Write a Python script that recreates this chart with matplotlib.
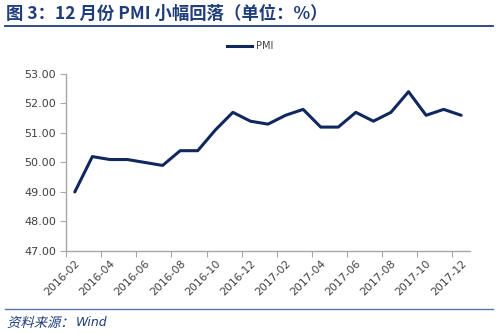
import matplotlib
matplotlib.use("Agg")
import matplotlib.pyplot as plt
from matplotlib.lines import Line2D
from matplotlib.textpath import TextPath
from matplotlib.patches import PathPatch
from matplotlib.font_manager import FontProperties
from matplotlib.transforms import Affine2D

plt.rcParams['font.family'] = ['Noto Sans CJK SC', 'DejaVu Sans']

months = ["2016-02", "2016-03", "2016-04", "2016-05", "2016-06", "2016-07",
          "2016-08", "2016-09", "2016-10", "2016-11", "2016-12", "2017-01",
          "2017-02", "2017-03", "2017-04", "2017-05", "2017-06", "2017-07",
          "2017-08", "2017-09", "2017-10", "2017-11", "2017-12"]
pmi = [49.0, 50.2, 50.1, 50.1, 50.0, 49.9, 50.4, 50.4, 51.1, 51.7, 51.4, 51.3,
       51.6, 51.8, 51.2, 51.2, 51.7, 51.4, 51.7, 52.4, 51.6, 51.8, 51.6]
y_ticks = [47, 48, 49, 50, 51, 52, 53]

line_color = "#11285e"
axis_color = "#a6a6a6"
title_color = "#1f3d7a"
label_color = "#404040"
tick_font = ["DejaVu Sans"]

fig = plt.figure(figsize=(5.0, 3.34), dpi=100)
ax = fig.add_axes([0.132, 0.2485, 0.808, 0.53])

x = list(range(len(months)))
ax.plot(x, pmi, color=line_color, linewidth=2.2, solid_joinstyle="round",
        solid_capstyle="round", zorder=3)

ax.set_xlim(-0.5, len(months) - 0.5)
ax.set_ylim(47, 53)
ax.set_yticks(y_ticks)
ax.set_yticklabels([f"{v:.2f}" for v in y_ticks], fontsize=8, color=label_color,
                   family=tick_font)

# tick marks sit on category boundaries, labels on every second category
ax.set_xticks([i - 0.5 for i in range(0, len(months), 2)])
ax.set_xticklabels([])
ax.set_xticks(x[::2], minor=True)
ax.set_xticklabels(months[::2], minor=True, rotation=45, ha="right",
                   rotation_mode="anchor", fontsize=7.8, color=label_color,
                   family=tick_font)
ax.tick_params(axis="x", which="minor", length=0, pad=5)
ax.tick_params(axis="x", which="major", length=4, direction="out", color=axis_color)
ax.tick_params(axis="y", length=4, direction="out", color=axis_color, pad=3)

for side in ("top", "right"):
    ax.spines[side].set_visible(False)
for side in ("left", "bottom"):
    ax.spines[side].set_color(axis_color)
    ax.spines[side].set_linewidth(1.0)

legend_handle = Line2D([], [], color=line_color, linewidth=2.2)
leg = ax.legend([legend_handle], ["PMI"], loc="center",
                bbox_to_anchor=(0.5, 0.862), bbox_transform=fig.transFigure,
                frameon=False, fontsize=7, handlelength=2.6, handletextpad=0.35,
                borderaxespad=0)
for t in leg.get_texts():
    t.set_color(label_color)
    t.set_family(tick_font)

fig.text(0.012, 0.958, "图 3：12 月份 PMI 小幅回落（单位：%）", fontsize=12.5,
         fontweight="bold", color=title_color, va="center", ha="left")
fig.add_artist(Line2D([0.01, 0.986], [0.922, 0.922], color=title_color,
                      linewidth=1.3, transform=fig.transFigure))
fig.add_artist(Line2D([0.01, 0.986], [0.074, 0.074], color="#5a78a8",
                      linewidth=1.0, transform=fig.transFigure))

# slanted source line (CJK fonts have no italic face, so shear the glyph paths)
px_per_pt = fig.dpi / 72.0
src_path = TextPath((0, 0), "资料来源：", size=9.6,
                    prop=FontProperties(family="Noto Sans CJK SC"))
src_tf = Affine2D().skew_deg(14, 0).scale(px_per_pt).translate(7, 334 - 327)
fig.add_artist(PathPatch(src_path, transform=src_tf, facecolor=title_color,
                         edgecolor="none", lw=0))
fig.text(0.152, 0.035, "Wind", fontsize=9, style="italic",
         color=title_color, va="center", ha="left", family="DejaVu Sans")

fig.savefig("out.png", dpi=100)
